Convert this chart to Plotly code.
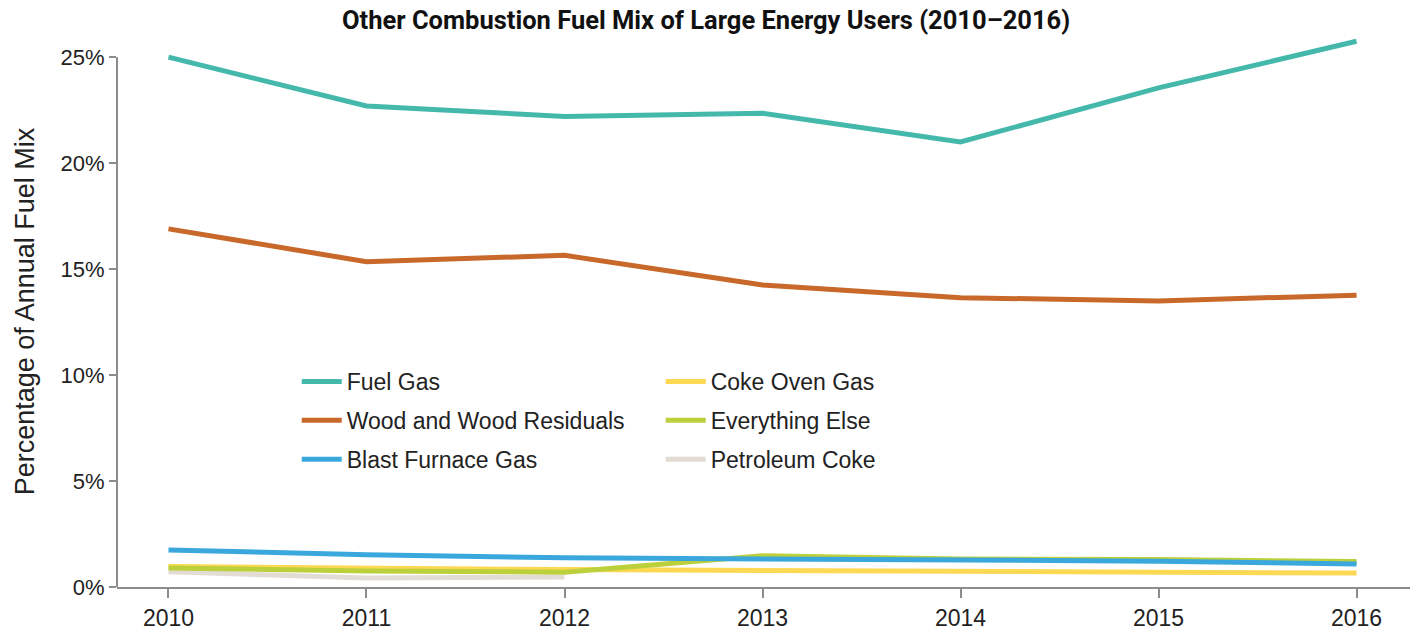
import plotly.graph_objects as go

years = [2010, 2011, 2012, 2013, 2014, 2015, 2016]

fuel_gas = [25.0, 22.7, 22.2, 22.35, 21.0, 23.55, 25.75]
wood = [16.9, 15.35, 15.65, 14.25, 13.65, 13.5, 13.77]
blast_furnace = [1.75, 1.52, 1.38, 1.32, 1.27, 1.22, 1.08]
coke_oven = [0.97, 0.88, 0.82, 0.78, 0.72, 0.7, 0.66]
everything_else = [0.9, 0.76, 0.7, 1.47, 1.32, 1.3, 1.2]
petroleum_coke = [0.72, 0.43, 0.47]

y_ticks = [0, 5, 10, 15, 20, 25]

FONT = "Liberation Sans"
AXIS_COLOR = "#8c8c8c"
TEXT_COLOR = "#222222"

series = [
    # name, x, y, color, legend
    ("Petroleum Coke", years[:3], petroleum_coke, "#E3DCD5", "legend2"),
    ("Coke Oven Gas", years, coke_oven, "#FDD853", "legend2"),
    ("Everything Else", years, everything_else, "#BCD03C", "legend2"),
    ("Blast Furnace Gas", years, blast_furnace, "#3AA8DC", "legend"),
    ("Wood and Wood Residuals", years, wood, "#C8682A", "legend"),
    ("Fuel Gas", years, fuel_gas, "#45B8AC", "legend"),
]

legend_rank = {"Fuel Gas": 1, "Wood and Wood Residuals": 2, "Blast Furnace Gas": 3,
               "Coke Oven Gas": 1, "Everything Else": 2, "Petroleum Coke": 3}

fig = go.Figure()
for name, xs, ys, color, leg in series:
    fig.add_trace(go.Scatter(
        x=xs, y=ys, name=name, mode="lines",
        line=dict(color=color, width=5),
        legend=leg, legendrank=legend_rank[name], legendgroup=name,
    ))

legend_style = dict(
    font=dict(family=FONT, size=23, color=TEXT_COLOR),
    bgcolor="rgba(0,0,0,0)",
    yanchor="top", xanchor="left",
    tracegroupgap=6, itemwidth=40,
    traceorder="grouped",
)

# y axis line only up to the 25% tick, as in the original
fig.add_shape(type="line", xref="paper", yref="y", x0=0, x1=0, y0=0, y1=max(y_ticks),
              line=dict(color=AXIS_COLOR, width=2))

fig.update_layout(
    width=1413, height=634,
    paper_bgcolor="white", plot_bgcolor="white",
    margin=dict(l=117, r=3, t=36, b=47),
    title=dict(
        text="<b>Other Combustion Fuel Mix of Large Energy Users (2010\u20132016)</b>",
        x=0.4997, xanchor="center", y=0.968, yanchor="middle",
        font=dict(family="Roboto", size=25.5, color="#111111"),
    ),
    legend=dict(x=0.139, y=0.412, **legend_style),
    legend2=dict(x=0.4205, y=0.412, **legend_style),
    xaxis=dict(
        range=[2009.74, 2016.27],
        tickvals=years, ticktext=[str(y) for y in years],
        showgrid=False, zeroline=False,
        showline=True, linecolor=AXIS_COLOR, linewidth=2,
        ticks="outside", ticklen=9, tickwidth=2, tickcolor=AXIS_COLOR,
        tickfont=dict(family=FONT, size=23, color=TEXT_COLOR),
    ),
    yaxis=dict(
        range=[0, 26],
        tickvals=y_ticks,
        ticktext=[f"{v}%" for v in y_ticks],
        showgrid=False, zeroline=False, showline=False,
        ticks="outside", ticklen=7, tickwidth=2, tickcolor=AXIS_COLOR,
        tickfont=dict(family=FONT, size=22, color=TEXT_COLOR),
        title=dict(text="Percentage of Annual Fuel Mix", standoff=18,
                   font=dict(family=FONT, size=27, color=TEXT_COLOR)),
    ),
)

fig.write_html("out.html", config={"displayModeBar": False},
               post_script="document.body.style.margin='0px';")
